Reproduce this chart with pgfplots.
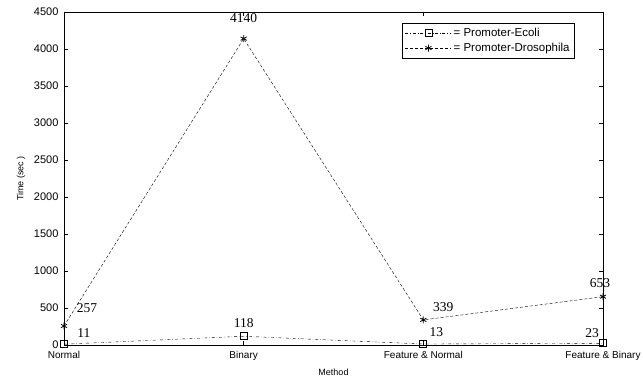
\documentclass[border=0pt]{standalone}
\usepackage{pgfplots}
\pgfplotsset{compat=1.18}
\usepackage{fontspec}
\setmainfont{Liberation Sans}
\newfontfamily\seriffont{Liberation Serif}
\begin{document}
\begin{tikzpicture}
\begin{axis}[
  scale only axis, width=539pt, height=333pt,
  xmin=0, xmax=3, ymin=0, ymax=4500,
  xtick={0,1,2,3},
  xticklabels={Normal,Binary,Feature \& Normal,Feature \& Binary},
  ytick={0,500,...,4500},
  tick align=inside, tick pos=both,
  major tick length=4pt,
  xticklabel style={font=\fontsize{10}{12}\selectfont, yshift=-3pt},
  yticklabel style={font=\fontsize{11}{13}\selectfont, xshift=-2pt},
  /pgf/number format/assume math mode=true,
  /pgf/number format/1000 sep={},
  xlabel={Method}, ylabel={Time (sec )},
  label style={font=\fontsize{9}{11}\selectfont},
  xlabel style={yshift=-1pt},
  ylabel style={yshift=2pt},
  axis line style={line width=0.9pt},
  every tick/.style={black, line width=0.6pt},
  clip=false,
  legend style={at={(0.948,0.967)}, anchor=north east, font=\fontsize{11.5}{14}\selectfont, draw=black, line width=0.6pt, row sep=1pt, inner sep=3pt, cells={anchor=west}},
  legend cell align=left,
  legend image code/.code={\draw[mark repeat=2,mark phase=2] plot coordinates {(0pt,0pt) (23pt,0pt) (46pt,0pt)};},
]
\addplot[black, thin, dash dot, mark=square, mark size=3.5pt, mark options={solid, line width=0.8pt}] coordinates {(0,11) (1,118) (2,13) (3,23)};
\addlegendentry{= Promoter-Ecoli}
\addplot[black, thin, densely dashed, mark=asterisk, mark size=3.5pt, mark options={solid, line width=0.8pt}] coordinates {(0,257) (1,4140) (2,339) (3,653)};
\addlegendentry{= Promoter-Drosophila}
\coordinate (bl) at (rel axis cs:0,0);
\coordinate (tr) at (rel axis cs:1,1);
\begin{scope}[every node/.style={font=\seriffont\fontsize{13.5}{15}\selectfont, inner sep=0pt}]
\node at (axis cs:1,4140) [yshift=21pt] {4140};
\node at (axis cs:0,257) [xshift=23pt, yshift=18pt] {257};
\node at (axis cs:0,11) [xshift=20pt, yshift=11pt] {11};
\node at (axis cs:1,118) [yshift=13pt] {118};
\node at (axis cs:2,339) [xshift=20pt, yshift=13pt] {339};
\node at (axis cs:2,13) [xshift=13pt, yshift=12pt] {13};
\node at (axis cs:3,653) [xshift=-3pt, yshift=14pt] {653};
\node at (axis cs:3,23) [xshift=-11pt, yshift=10pt] {23};
\end{scope}
\end{axis}
\pgfresetboundingbox
\path ([xshift=-64pt,yshift=-36pt]bl) rectangle ([xshift=40pt,yshift=12pt]tr);
\end{tikzpicture}
\end{document}
